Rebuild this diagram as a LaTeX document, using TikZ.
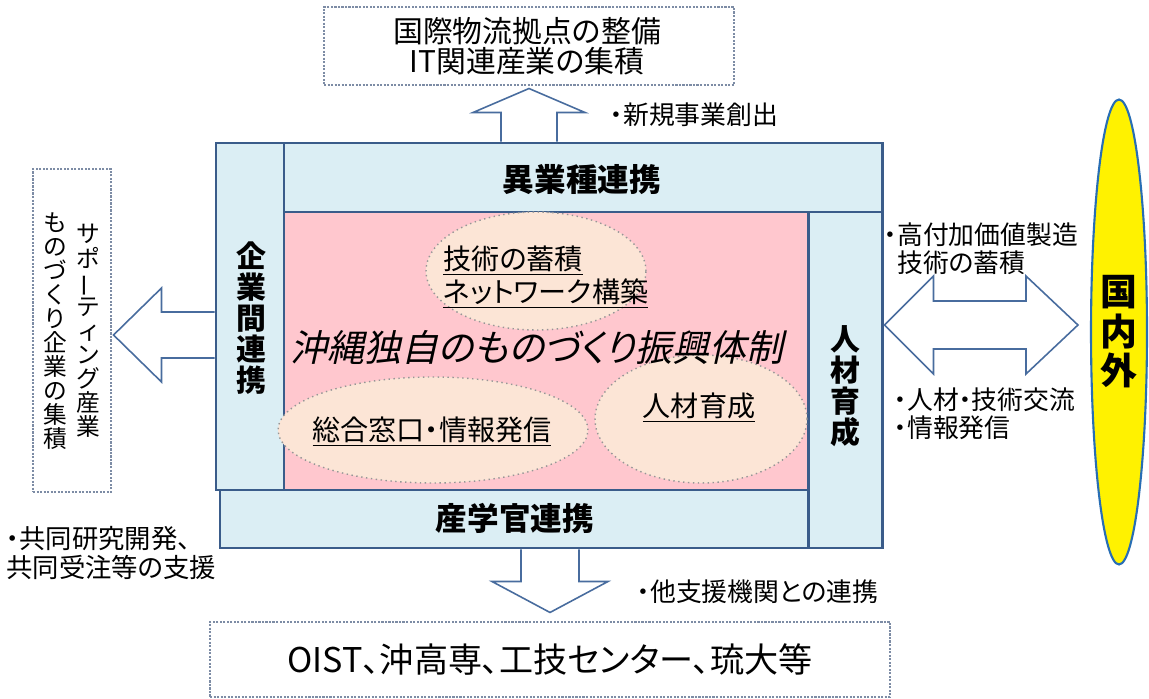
\documentclass[tikz,border=0pt]{standalone}
\usepackage{fontspec}
\usepackage{graphicx}
\setmainfont[RawFeature=+palt]{Noto Sans CJK JP}
\newfontfamily\jpslant[FakeSlant=0.22,RawFeature=+palt]{Noto Sans CJK JP}
\usetikzlibrary{calc,fit,shapes.geometric}

\definecolor{panelblue}{RGB}{219,238,244}
\definecolor{frameblue}{RGB}{58,92,138}
\definecolor{corepink}{RGB}{255,199,206}
\definecolor{bubblefill}{RGB}{252,229,214}
\definecolor{bubbleline}{RGB}{150,150,150}
\definecolor{arrowblue}{RGB}{72,108,158}
\definecolor{boxgray}{RGB}{125,140,165}
\definecolor{outerblue}{RGB}{40,110,180}

\newcommand\tightlines{\lineskiplimit-20pt\relax}

\begin{document}
\begin{tikzpicture}[x=0.02cm, y=-0.02cm,
  panel/.style={draw=frameblue, fill=panelblue, line width=1.7pt, inner sep=0pt},
  hlabel/.style={inner sep=0pt, font=\fontsize{18}{20}\selectfont\bfseries},
  vlabel/.style={inner sep=0pt, align=center, font=\fontsize{17}{17.6}\selectfont\bfseries\tightlines},
  bubble/.style={ellipse, draw=bubbleline, fill=bubblefill, dotted, line width=0.8pt, inner sep=0pt},
  bubtext/.style={inner sep=0pt, align=left, font=\fontsize{16}{18.7}\selectfont\tightlines},
  dashbox/.style={draw=boxgray, dash pattern=on 1.2pt off 0.8pt, line width=0.6pt, inner sep=0pt},
  barrow/.style={draw=arrowblue, line width=0.9pt, line join=miter},
  note/.style={inner sep=0pt, anchor=west, align=left, font=\fontsize{14.7}{16}\selectfont\tightlines},
  tate/.style={inner sep=0pt, align=center, font=\fontsize{13.5}{13.7}\selectfont\tightlines}]

  \path[use as bounding box, fill=white] (0,0) rectangle (1149,699);

  % core and the four panels round it
  \node[fill=corepink, inner sep=0pt, fit={(284,212) (808,490)}] (core) {};
  \node[panel, fit={(216,143) (284,490)}] (kigyo) {};
  \node[panel, fit={(284,143) (882,212)}] (igyo) {};
  \node[panel, fit={(808,212) (882,548)}] (jinzai) {};
  \node[panel, fit={(220,490) (808,548)}] (sangaku) {};
  \node[vlabel] (kigyotxt) at (251,318) {企\\業\\間\\連\\携};
  \node[hlabel] (igyotxt) at (582,180) {異業種連携};
  \node[vlabel] (jinzaitxt) at (845,386) {人\\材\\育\\成};
  \node[hlabel] (sangakutxt) at (515,518) {産学官連携};

  % bubbles inside the core
  \node[bubble, minimum width=4.4cm, minimum height=2.36cm] (gijutsu) at (536,271) {};
  \node[bubble, minimum width=6.2cm, minimum height=2.12cm] (madoguchi) at (433,430) {};
  \node[bubble, minimum width=4.24cm, minimum height=2.56cm] (ikusei) at (701,419) {};
  \node[bubtext, anchor=west] (gijutsutxt) at (443,277) {\underline{技術の蓄積}\\\underline{ネットワーク構築}};
  \node[bubtext] (madotxt) at (432,432) {\underline{総合窓口・情報発信}};
  \node[bubtext] (ikuseitxt) at (699,408) {\underline{人材育成}};
  \node[inner sep=0pt, font=\jpslant\fontsize{21}{22}\selectfont] (taisei) at (537,347)
    {沖縄独自のものづくり振興体制};

  % outer boxes
  \node[dashbox, fit={(324,7) (734,85)}] (itbox) {};
  \node[inner sep=0pt, align=center, font=\fontsize{17}{17.2}\selectfont\tightlines] (ittxt) at (527,46)
    {国際物流拠点の整備\\IT関連産業の集積};
  \node[dashbox, fit={(33,169) (111,492)}] (sup) {};
  \node[tate] (supa) at (88,331) {サ\\ポ\\\rotatebox[origin=c]{90}{ー}\\テ\\ィ\\ン\\グ\\産\\業};
  \node[tate] (supb) at (55,331) {も\\の\\づ\\く\\り\\企\\業\\の\\集\\積};
  \node[dashbox, fit={(210,622) (890,697)}] (oist) {};
  \node[inner sep=0pt, font=\fontsize{19.4}{20}\selectfont] (oisttxt) at (550,660)
    {OIST、沖高専、工技センター、琉大等};
  \node[ellipse, draw=outerblue, fill=yellow, line width=1.2pt, minimum width=1.12cm,
    minimum height=9.3cm, inner sep=0pt, align=center,
    font=\fontsize{21}{22.5}\selectfont\bfseries\tightlines] (kokunai) at (1119,332) {国\\内\\外};

  % notes beside the arrows
  \node[note] (shinki) at (610,115) {・新規事業創出};
  \node[note, font=\fontsize{15}{16}\selectfont\tightlines] (kyodo) at (6,553) {・共同研究開発、\\共同受注等の支援};
  \node[note] (kofuka) at (884,249) {・高付加価値製造\\\phantom{・}技術の蓄積};
  \node[note] (koryu) at (894,414) {・人材・技術交流\\・情報発信};
  \node[note] (renkei) at (637,592) {・他支援機関との連携};

  % block arrows
  \coordinate (upb) at (igyo.north -| itbox.south);
  \draw[barrow] ($(upb)+(-28,0)$) -- ++(0,-29) -- ++(-28,0) -- ($(itbox.south)+(0,3)$)
    -- ($(upb)+(56,-29)$) -- ++(-28,0) -- ++(0,29);
  \coordinate (lb) at ($(kigyo.west)+(0,18.5)$);
  \draw[barrow] ($(lb)+(0,-23)$) -- ++(-53,0) -- ++(0,-24) -- ($(lb -| sup.east)+(2,0)$)
    -- ($(lb)+(-53,47)$) -- ++(0,-24) -- ++(53,0);
  \coordinate (rl) at ($(jinzai.east)+(1,-55)$);
  \coordinate (rr) at ($(rl -| kokunai.west)+(-12,0)$);
  \draw[barrow] (rl) -- ++(49,-49) -- ++(0,25) -- ($(rr)+(-52,-24)$) -- ++(0,-25) -- (rr)
    -- ++(-52,49) -- ++(0,-25) -- ($(rl)+(49,24)$) -- ++(0,25) -- cycle;
  \coordinate (db) at (sangaku.south -| oist.north);
  \draw[barrow] ($(db)+(-29,0)$) -- ++(0,32) -- ++(-29,0) -- ($(oist.north)+(0,-9)$)
    -- ($(db)+(58,32)$) -- ++(-29,0) -- ++(0,-32);
\end{tikzpicture}
\end{document}
